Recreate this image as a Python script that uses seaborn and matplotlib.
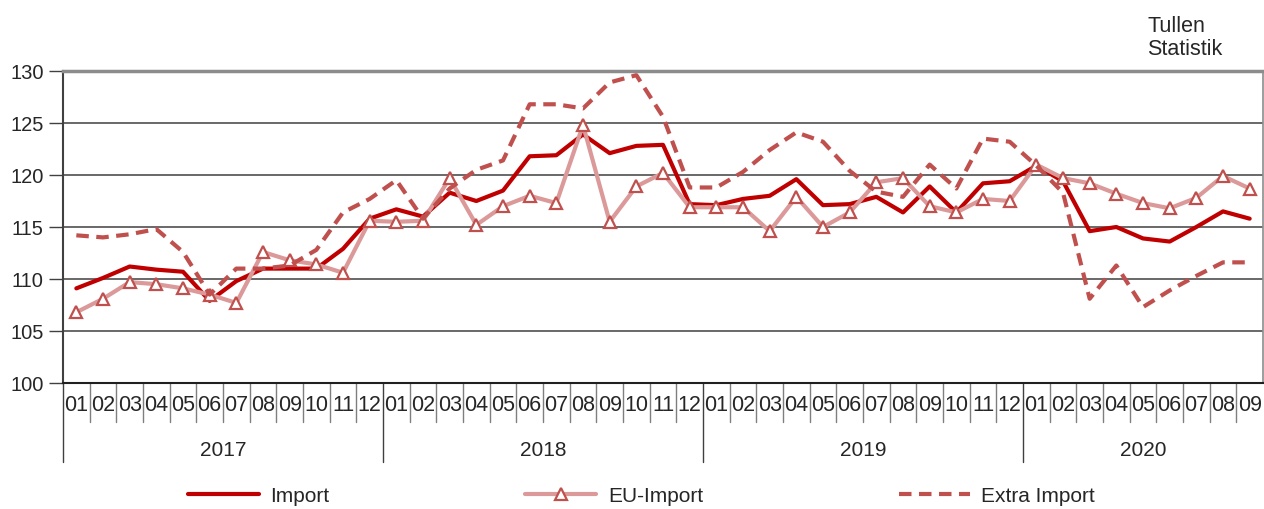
import matplotlib
matplotlib.use("Agg")
import matplotlib.pyplot as plt
import seaborn as sns
import pandas as pd

years = ["2017", "2018", "2019", "2020"]
months_per_year = [12, 12, 12, 9]

import_vals = [
    109.1, 110.1, 111.2, 110.9, 110.7, 107.9, 109.8, 111.0, 111.0, 111.0, 112.9, 115.8,
    116.7, 116.0, 118.3, 117.5, 118.5, 121.8, 121.9, 123.9, 122.1, 122.8, 122.9, 117.2,
    117.1, 117.7, 118.0, 119.6, 117.1, 117.2, 117.9, 116.4, 118.9, 116.4, 119.2, 119.4,
    120.9, 119.4, 114.6, 115.0, 113.9, 113.6, 115.0, 116.5, 115.8,
]
eu_import = [
    106.8, 108.1, 109.7, 109.5, 109.1, 108.5, 107.7, 112.6, 111.8, 111.4, 110.6, 115.6,
    115.5, 115.6, 119.7, 115.2, 117.0, 118.0, 117.3, 124.8, 115.5, 118.9, 120.2, 116.9,
    116.9, 116.9, 114.6, 117.9, 115.0, 116.4, 119.3, 119.7, 117.0, 116.4, 117.7, 117.5,
    121.0, 119.7, 119.2, 118.2, 117.3, 116.8, 117.8, 119.9, 118.7,
]
extra_import = [
    114.2, 114.0, 114.3, 114.8, 112.6, 108.5, 111.0, 111.0, 111.3, 112.8, 116.4, 117.7,
    119.5, 115.8, 118.7, 120.5, 121.4, 126.8, 126.8, 126.4, 128.9, 129.6, 125.6, 118.8,
    118.8, 120.3, 122.4, 124.1, 123.2, 120.4, 118.4, 117.9, 121.0, 118.7, 123.5, 123.2,
    120.9, 118.3, 108.1, 111.3, 107.3, 108.9, 110.3, 111.6, 111.6,
]

month_labels = [f"{m:02d}" for n in months_per_year for m in range(1, n + 1)]

df = pd.DataFrame({
    "pos": range(len(month_labels)),
    "Import": import_vals,
    "EU-Import": eu_import,
    "Extra Import": extra_import,
})

sns.set_theme(style="white")
plt.rcParams["font.family"] = ["Liberation Sans", "DejaVu Sans"]

fig = plt.figure(figsize=(12.64, 5.10), dpi=100)
ax = fig.add_axes([63 / 1264, 1 - 384 / 510, 1200 / 1264, 312 / 510])

sns.lineplot(data=df, x="pos", y="Import", ax=ax, color="#c00000", linewidth=3,
             label="Import")
sns.lineplot(data=df, x="pos", y="EU-Import", ax=ax, color="#db9a99", linewidth=3,
             marker="^", markersize=8, markerfacecolor="white",
             markeredgecolor="#c0504d", markeredgewidth=1.6, label="EU-Import")
sns.lineplot(data=df, x="pos", y="Extra Import", ax=ax, color="#c0504d", linewidth=3,
             dashes=(3, 1.8), label="Extra Import")
ax.lines[-1].set_dash_capstyle("butt")

n = len(month_labels)
ax.set_xlim(-0.5, n - 0.5)
ax.set_ylim(100, 130)
ax.set_yticks(range(100, 131, 5))
ax.tick_params(axis="y", labelsize=14.5, length=10, width=1, color="#404040", pad=4,
               left=True)
ax.yaxis.grid(True, color="#404040", linewidth=1.1)
ax.set_xlabel("")
ax.set_ylabel("")

ax.set_xticks(range(n))
ax.set_xticklabels(month_labels, fontsize=15.5)
ax.tick_params(axis="x", length=0, pad=8)

for s in ["top", "right"]:
    ax.spines[s].set_color("#8c8c8c")
ax.spines["top"].set_linewidth(2.5)
ax.spines["right"].set_linewidth(1.2)
ax.spines["left"].set_color("#404040")
ax.spines["left"].set_linewidth(1.5)
ax.spines["bottom"].set_color("#202020")
ax.spines["bottom"].set_linewidth(1.5)

trans = ax.get_xaxis_transform()
year_starts = [sum(months_per_year[:k]) for k in range(len(years))]
for i in range(n):
    b = i - 0.5
    if i in year_starts:
        ax.plot([b, b], [0, -0.253], transform=trans, color="#404040", lw=1, clip_on=False)
    else:
        ax.plot([b, b], [0, -0.125], transform=trans, color="#7f7f7f", lw=1, clip_on=False)

for k, y in enumerate(years):
    start = year_starts[k]
    center = start + (months_per_year[k] - 1) / 2
    ax.text(center, -0.212, y, transform=trans, ha="center", va="center", fontsize=15)

ax.get_legend().remove()
handles, labels = ax.get_legend_handles_labels()
fig.legend(handles, labels, loc="center", bbox_to_anchor=(641.5 / 1264, 1 - 497 / 510),
           ncol=3, frameon=False, fontsize=15, handlelength=3.4, handletextpad=0.55,
           columnspacing=9.4)

fig.text(1147 / 1264, 1 - 16 / 510, "Tullen\nStatistik", ha="left", va="top",
         fontsize=15.5, linespacing=1.12)

fig.savefig("out.png", dpi=100)
